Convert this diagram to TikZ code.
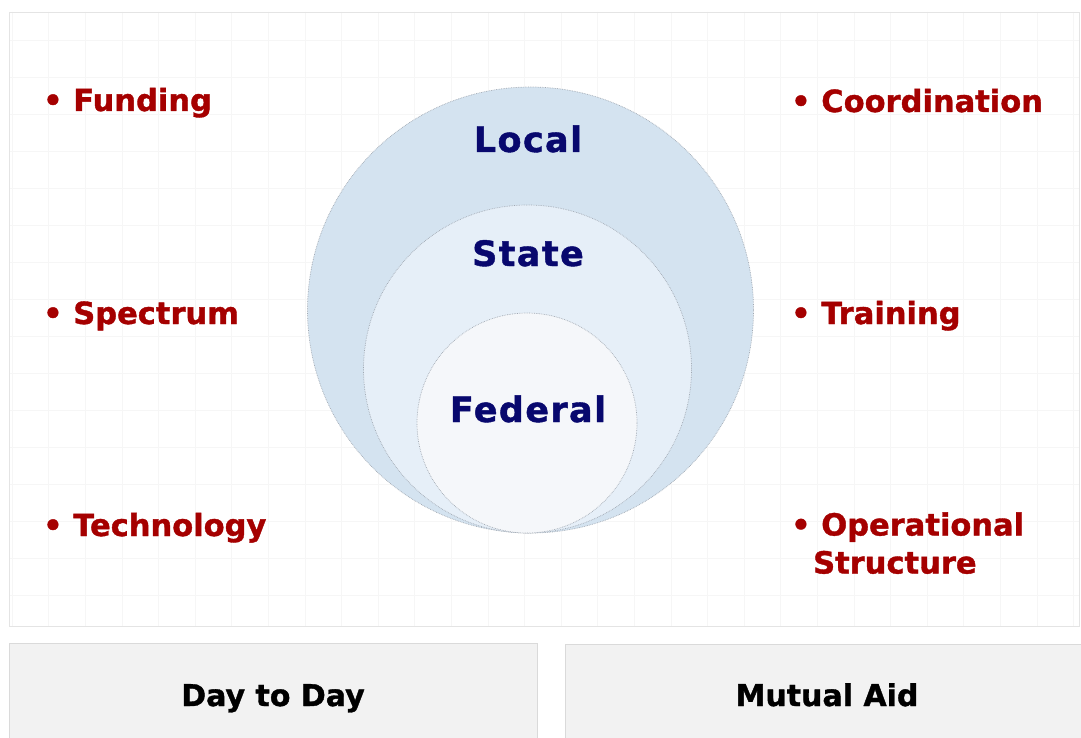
\documentclass[tikz,border=0pt]{standalone}
\usepackage{fontspec}
\setmainfont{DejaVu Sans}
\newfontfamily\heavyfont[FakeBold=1.2]{DejaVu Sans Bold}
\newfontfamily\spacedfont[LetterSpace=4,FakeBold=1.2]{DejaVu Sans Bold}
\definecolor{itemred}{RGB}{165,0,0}
\definecolor{navy}{RGB}{8,8,110}
\definecolor{localfill}{RGB}{212,227,240}
\definecolor{statefill}{RGB}{230,239,248}
\definecolor{fedfill}{RGB}{245,247,250}
\definecolor{ringline}{RGB}{160,168,178}
\definecolor{gridline}{RGB}{246,246,246}
\definecolor{panelline}{RGB}{228,228,228}
\definecolor{boxfill}{RGB}{242,242,242}
\definecolor{boxline}{RGB}{218,218,218}
\tikzset{
  item/.style={anchor=base west, inner sep=0pt, text=itemred, font=\fontsize{30.5}{38}\selectfont\heavyfont},
  level/.style={anchor=base, inner sep=0pt, text=navy, font=\fontsize{35}{40}\selectfont\spacedfont},
  ring/.style={draw=ringline, densely dotted, line width=0.7pt},
  bottombox/.style={draw=boxline, fill=boxfill, line width=0.8pt},
  boxlabel/.style={anchor=base, inner sep=0pt, text=black, font=\fontsize{30}{36}\selectfont\heavyfont}
}
\begin{document}
\begin{tikzpicture}[x=1pt,y=-1pt]
\useasboundingbox (0,0) rectangle (1081,738);
\begin{scope}
\clip (0,0) rectangle (1081,738);
\fill[white] (0,0) rectangle (1081,738);
% panel with faint grid
\fill[white] (9,12) rectangle (1079,626);
\begin{scope}
\clip (9,12) rectangle (1079,626);
\foreach \gx in {12,48.6,...,1080} {\draw[gridline, line width=0.6pt] (\gx,12) -- (\gx,626);}
\foreach \gy in {40,77,...,626} {\draw[gridline, line width=0.6pt] (9,\gy) -- (1079,\gy);}
\end{scope}
\draw[panelline, line width=0.8pt] (9,12) rectangle (1079,626);
% circles
\node[ring, fill=localfill, circle, minimum size=446pt, inner sep=0pt] (local) at (530.5,310) {};
\node[ring, fill=statefill, circle, minimum size=328pt, inner sep=0pt] (state) at (527.5,369) {};
\node[ring, fill=fedfill, circle, minimum size=220pt, inner sep=0pt] (federal) at (527,423) {};
\node[level] (locallbl) at (528,152) {Local};
\node[level] (statelbl) at (528,266) {State};
\node[level] (fedlbl) at (528,422) {Federal};
% left items
\node[item] (funding) at (43,111) {• Funding};
\node[item] (spectrum) at (43,324) {• Spectrum};
\node[item] (technology) at (43,536) {• Technology};
% right items
\node[item] (coord) at (791,112) {• Coordination};
\node[item] (training) at (791,324) {• Training};
\node[item, align=left] (opstruct) at (791,573.5) {• Operational\\[0pt]\hspace*{22pt}Structure};
% bottom boxes
\draw[bottombox] (9,643) rectangle (537,745);
\draw[bottombox] (565,644) rectangle (1085,745);
\node[boxlabel] (daytoday) at (273,706) {Day to Day};
\node[boxlabel] (mutualaid) at (827,706) {Mutual Aid};
\end{scope}
\end{tikzpicture}
\end{document}
